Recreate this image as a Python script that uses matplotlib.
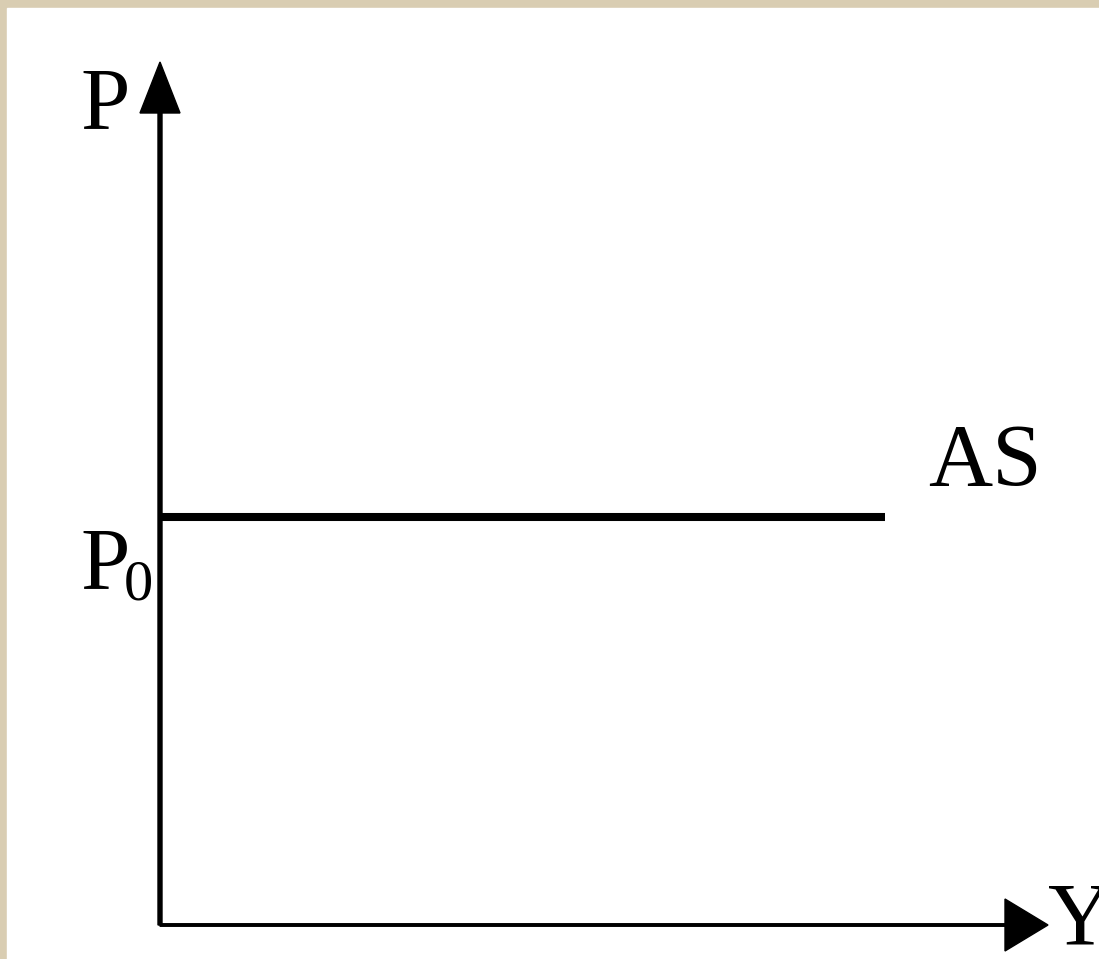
import matplotlib.pyplot as plt
from matplotlib.patches import Rectangle

# chart values (units: pixels from the origin of the diagram)
y_axis_top = 863
x_axis_end = 888
p0 = 408
as_start, as_end = 0, 725

fig = plt.figure(figsize=(10.99, 9.59), dpi=100, facecolor='#d9cdb2')

ax = fig.add_axes([0, 0, 1, 1])
ax.set_facecolor('none')
ax.set_xlim(-160, 939)
ax.set_ylim(-34, 925)
ax.axis('off')

# white card with a beige frame on the left and top
ax.add_patch(Rectangle((7 / 1099, 0), 1, (959 - 8) / 959,
                       transform=fig.transFigure, color='white', zorder=0))

# axes with arrow heads
ax.arrow(0, 0, 0, y_axis_top, width=4, head_width=40, head_length=51,
         length_includes_head=True, color='black', zorder=2)
ax.arrow(0, 0, x_axis_end, 0, width=2.5, head_width=52, head_length=43,
         length_includes_head=True, color='black', zorder=2)

# aggregate supply line
ax.plot([as_start, as_end], [p0, p0], color='black', lw=5.8,
        solid_capstyle='butt', zorder=3)

font = dict(family='Liberation Serif', color='black', ha='left', va='baseline')
ax.text(-80, 797, 'P', fontsize=64, **font)
ax.text(-80, 337, 'P', fontsize=64, **font)
ax.text(-36, 325, '0', fontsize=42, **font)
ax.text(768, 440, 'AS', fontsize=64, **font)
ax.text(888, -18, 'Y', fontsize=64, **font)

fig.savefig('out.png', dpi=100, facecolor=fig.get_facecolor())
